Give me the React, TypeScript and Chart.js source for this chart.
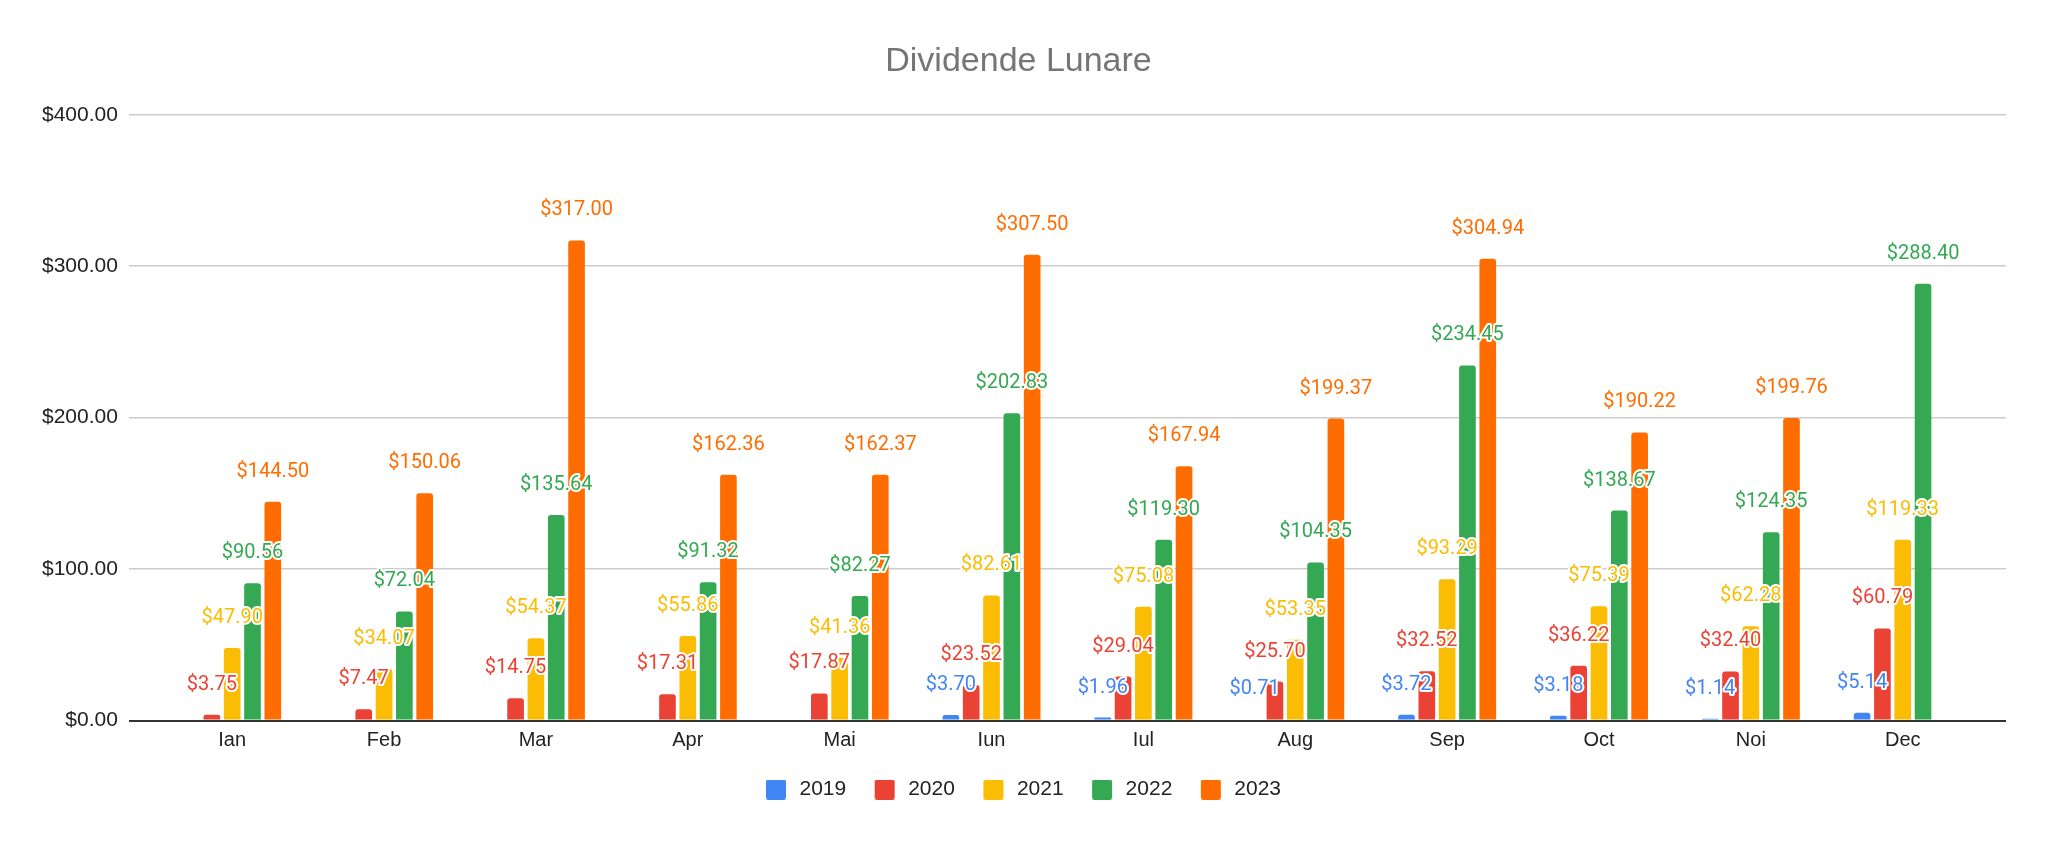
import React, { useEffect, useRef } from "react";
import { Chart, registerables } from "chart.js";

Chart.register(...registerables);

const months = ["Ian", "Feb", "Mar", "Apr", "Mai", "Iun", "Iul", "Aug", "Sep", "Oct", "Noi", "Dec"];
const seriesNames = ["2019", "2020", "2021", "2022", "2023"];
const seriesColors = ["#4285F4", "#EA4335", "#FBBC04", "#34A853", "#FF6D01"];

const values2019 = [null, null, null, null, null, 3.70, 1.96, 0.71, 3.72, 3.18, 1.14, 5.14];
const values2020 = [3.75, 7.47, 14.75, 17.31, 17.87, 23.52, 29.04, 25.70, 32.52, 36.22, 32.40, 60.79];
const values2021 = [47.90, 34.07, 54.37, 55.86, 41.36, 82.61, 75.08, 53.35, 93.29, 75.39, 62.28, 119.33];
const values2022 = [90.56, 72.04, 135.64, 91.32, 82.27, 202.83, 119.30, 104.35, 234.45, 138.67, 124.35, 288.40];
const values2023 = [144.50, 150.06, 317.00, 162.36, 162.37, 307.50, 167.94, 199.37, 304.94, 190.22, 199.76, null];

const yTicks = [0, 100, 200, 300, 400];

const allValues = [values2019, values2020, values2021, values2022, values2023];

const fmt = (v: number) => "$" + v.toFixed(2);

const FONT = '"Liberation Sans", Arial, sans-serif';

// legend swatch: a 20x20 rounded square placed inside a wider transparent canvas
function makeSwatch(color: string): HTMLCanvasElement {
  const c = document.createElement("canvas");
  c.width = 33;
  c.height = 20;
  const g = c.getContext("2d")!;
  g.fillStyle = color;
  const x = 10, y = 0, w = 20, h = 20, r = 2;
  g.beginPath();
  g.moveTo(x + r, y);
  g.lineTo(x + w - r, y);
  g.quadraticCurveTo(x + w, y, x + w, y + r);
  g.lineTo(x + w, y + h - r);
  g.quadraticCurveTo(x + w, y + h, x + w - r, y + h);
  g.lineTo(x + r, y + h);
  g.quadraticCurveTo(x, y + h, x, y + h - r);
  g.lineTo(x, y + r);
  g.quadraticCurveTo(x, y, x + r, y);
  g.closePath();
  g.fill();
  return c;
}

const labelPlugin = {
  id: "barValueLabels",
  afterDatasetsDraw(chart: any) {
    const ctx = chart.ctx;
    ctx.save();
    ctx.font = '20px Roboto, "Liberation Sans", sans-serif';
    ctx.textAlign = "center";
    ctx.textBaseline = "middle";
    ctx.lineJoin = "round";
    chart.data.datasets.forEach((ds: any, di: number) => {
      const meta = chart.getDatasetMeta(di);
      meta.data.forEach((bar: any, i: number) => {
        const v = ds.data[i].y;
        if (v === null || v === undefined) return;
        const text = fmt(v);
        const y = bar.y - 30;
        ctx.strokeStyle = "#ffffff";
        ctx.lineWidth = 4;
        ctx.strokeText(text, bar.x, y);
        ctx.fillStyle = seriesColors[di];
        ctx.fillText(text, bar.x, y);
      });
    });
    ctx.restore();
  },
};

export default function App() {
  const canvasRef = useRef<HTMLCanvasElement | null>(null);

  useEffect(() => {
    document.body.style.margin = "0";
    const canvas = canvasRef.current;
    if (!canvas) return;
    const swatches = seriesColors.map(makeSwatch);
    const chart = new Chart(canvas, {
      type: "bar",
      data: {
        datasets: seriesNames.map((name, si) => ({
          label: name,
          data: allValues[si].map((v, i) => ({ x: i, y: v })),
          backgroundColor: seriesColors[si],
          borderRadius: 3,
          categoryPercentage: 0.669,
          barPercentage: 0.82,
        })),
      },
      options: {
        responsive: false,
        animation: false,
        events: [],
        layout: { padding: { left: 31, right: 42, top: 0, bottom: 31 } },
        plugins: {
          tooltip: { enabled: false },
          title: {
            display: true,
            text: "Dividende Lunare",
            color: "#757575",
            font: { family: FONT, size: 34, weight: "normal" },
            padding: { top: 41, bottom: 33 },
          },
          legend: {
            position: "bottom",
            labels: {
              usePointStyle: true,
              pointStyleWidth: 33,
              boxWidth: 20,
              boxHeight: 20,
              padding: 18.5,
              color: "#222222",
              font: { family: FONT, size: 21 },
              generateLabels: (ch: any) => {
                const items = Chart.defaults.plugins.legend.labels.generateLabels(ch);
                return items.map((it: any, i: number) => ({ ...it, pointStyle: swatches[i] }));
              },
            },
          },
        },
        scales: {
          x: {
            type: "linear",
            offset: false,
            min: -0.68,
            max: 11.68,
            grid: { display: false, drawTicks: false },
            border: { display: false },
            afterBuildTicks: (axis: any) => {
              axis.ticks = months.map((_, i) => ({ value: i }));
            },
            ticks: {
              autoSkip: false,
              maxRotation: 0,
              padding: 19.5,
              color: "#222222",
              font: { family: FONT, size: 20, lineHeight: 0.05 },
              callback: (v: any) => months[v] ?? "",
            },
          },
          y: {
            min: 0,
            max: 400,
            border: { display: false },
            afterBuildTicks: (axis: any) => {
              axis.ticks = yTicks.map((v) => ({ value: v }));
            },
            grid: {
              drawTicks: false,
              color: (c: any) => (c.tick && c.tick.value === 0 ? "#333333" : "#cccccc"),
              lineWidth: (c: any) => (c.tick && c.tick.value === 0 ? 2 : 1.5),
            },
            ticks: {
              padding: 11,
              color: "#222222",
              font: { family: FONT, size: 21 },
              callback: (v: any) => fmt(Number(v)),
            },
          },
        },
      },
      plugins: [labelPlugin],
    } as any);
    return () => chart.destroy();
  }, []);

  return (
    <div style={{ width: 2048, height: 841, background: "#ffffff" }}>
      <canvas ref={canvasRef} width={2048} height={841} style={{ display: "block" }} />
    </div>
  );
}
